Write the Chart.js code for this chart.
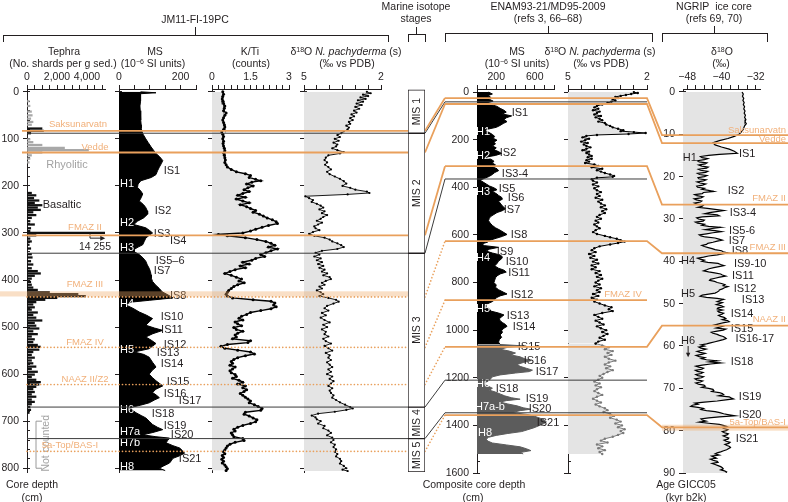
<!DOCTYPE html>
<html>
<head>
<meta charset="utf-8">
<title>JM11-FI-19PC, ENAM93-21/MD95-2009 and NGRIP</title>
<script src="https://cdn.jsdelivr.net/npm/chart.js@4.4.1/dist/chart.umd.min.js"></script>
<style>
  html, body { margin:0; padding:0; background:#fff; }
  #wrap { position:relative; width:788px; height:502px; overflow:hidden; font-family:"Liberation Sans", Arial, Helvetica, sans-serif; color:#231f20; }
  #wrap canvas { position:absolute; left:0; top:0; }
  .t { position:absolute; font-size:10.5px; line-height:12px; white-space:nowrap; transform:translate(-50%,-50%); }
  .t sup { font-size:7px; line-height:0; vertical-align:3.5px; }
  .h { position:absolute; height:0; border-top:1px solid #231f20; }
  .v { position:absolute; width:0; border-left:1px solid #231f20; }
</style>
</head>
<body>
<div id="wrap">
  <canvas id="cTeph" width="788" height="502"></canvas>
  <canvas id="cMS" width="788" height="502"></canvas>
  <canvas id="cKTi" width="788" height="502"></canvas>
  <canvas id="cJD" width="788" height="502"></canvas>
  <canvas id="cEMS" width="788" height="502"></canvas>
  <canvas id="cED" width="788" height="502"></canvas>
  <canvas id="cNG" width="788" height="502"></canvas>
  <canvas id="cTie" width="788" height="502"></canvas>
  <canvas id="cMIS" width="788" height="502"></canvas>

  <div class="t" style="left:195px;top:19px">JM11-FI-19PC</div>
  <div class="t" style="left:416px;top:6px">Marine isotope</div>
  <div class="t" style="left:416px;top:18px">stages</div>
  <div class="t" style="left:548px;top:6px">ENAM93-21/MD95-2009</div>
  <div class="t" style="left:548px;top:18px">(refs 3, 66–68)</div>
  <div class="t" style="left:714px;top:6px">NGRIP&nbsp; ice core</div>
  <div class="t" style="left:714px;top:18px">(refs 69, 70)</div>

  <div class="t" style="left:64px;top:51px">Tephra</div>
  <div class="t" style="left:63px;top:63px">(No. shards per g sed.)</div>
  <div class="t" style="left:155px;top:51px">MS</div>
  <div class="t" style="left:153px;top:63px">(10<sup>−6</sup> SI units)</div>
  <div class="t" style="left:250px;top:51px">K/Ti</div>
  <div class="t" style="left:251px;top:63px">(counts)</div>
  <div class="t" style="left:346px;top:51px">δ<sup>18</sup>O <i>N. pachyderma</i> (s)</div>
  <div class="t" style="left:347px;top:63px">(‰ vs PDB)</div>
  <div class="t" style="left:517px;top:51px">MS</div>
  <div class="t" style="left:517px;top:63px">(10<sup>−6</sup> SI units)</div>
  <div class="t" style="left:600px;top:51px">δ<sup>18</sup>O <i>N. pachyderma</i> (s)</div>
  <div class="t" style="left:601px;top:63px">(‰ vs PDB)</div>
  <div class="t" style="left:722px;top:51px">δ<sup>18</sup>O</div>
  <div class="t" style="left:721px;top:63px">(‰)</div>

  <div class="t" style="left:32px;top:484px">Core depth</div>
  <div class="t" style="left:32px;top:497px">(cm)</div>
  <div class="t" style="left:474px;top:484px">Composite core depth</div>
  <div class="t" style="left:473px;top:497px">(cm)</div>
  <div class="t" style="left:686px;top:484px">Age GICC05</div>
  <div class="t" style="left:686px;top:497px">(kyr b2k)</div>

  <div class="h" style="left:3px;top:35px;width:385px"></div>
  <div class="v" style="left:3px;top:35px;height:7px"></div>
  <div class="v" style="left:388px;top:35px;height:7px"></div>
  <div class="v" style="left:195px;top:27px;height:8px"></div>

  <div class="h" style="left:408px;top:34px;width:17px"></div>
  <div class="v" style="left:408px;top:34px;height:8px"></div>
  <div class="v" style="left:425px;top:34px;height:8px"></div>
  <div class="v" style="left:416px;top:27px;height:7px"></div>

  <div class="h" style="left:445px;top:33px;width:207px"></div>
  <div class="v" style="left:445px;top:33px;height:9px"></div>
  <div class="v" style="left:652px;top:33px;height:9px"></div>
  <div class="v" style="left:548px;top:26px;height:7px"></div>

  <div class="h" style="left:662px;top:33px;width:105px"></div>
  <div class="v" style="left:662px;top:33px;height:9px"></div>
  <div class="v" style="left:767px;top:33px;height:9px"></div>
  <div class="v" style="left:714px;top:26px;height:7px"></div>
</div>

<script>
// ======================= DATA =======================
// JM11-FI-19PC tephra (core depth cm, shards per g sediment)
const jm11RhyDepth = [20,30,42,50,57,64,70,101,107,113,119,124,129,135,142,150];
const jm11RhyCount = [150,200,300,350,250,400,300,200,400,1000,2500,4100,1000,300,200,150];
const jm11BasDepth = [78,83,88,215,220,226,231,236,241,246,251,256,262,268,275,282,290,296,300,305,312,318,325,333,345,352,360,367,375,381,386,391,397,404,410,416,421,426,430,434,438,442,447,452,458,463,469,474,480,486,491,497,503,509,515,520,526,532,538,542,548,553,559,565,571,577,584,589,595,601,606,612,617,622,627,632,638,643,648,654,659,664,670,676,682];
const jm11BasCount = [1000,1100,250,300,600,450,800,500,1000,700,900,400,600,300,200,500,250,200,14255,600,200,300,150,250,300,350,250,400,300,700,900,500,300,250,300,400,700,1500,3400,3900,2000,1200,600,400,500,300,700,400,600,1000,500,600,800,400,700,300,500,400,700,900,800,400,300,500,300,400,600,300,700,500,300,600,900,800,600,400,500,300,600,300,500,300,200,250,150];

// JM11 magnetic susceptibility (10^-6 SI)
const jm11MSDepth = [0,2,4,10,20,30,40,50,60,70,78,85,90,100,108,117,124,131,138,146,152,160,168,176,182,189,196,203,210,217,225,232,240,246,253,260,268,275,282,289,295,300,305,311,318,325,330,335,340,346,353,360,368,375,382,389,396,403,410,418,425,432,438,443,447,453,460,468,475,482,489,496,502,507,514,521,528,535,541,546,553,558,564,570,575,580,585,592,600,607,614,620,625,632,639,645,650,655,661,666,671,677,682,688,693,700,707,713,718,724,729,733,736,741,746,752,757,762,768,774,779,784,789,795,800,805];
const jm11MS = [70,120,70,70,70,68,69,71,70,72,72,75,78,87,95,104,112,120,132,142,138,131,125,120,105,71,62,60,70,77,72,66,80,87,92,93,80,60,48,87,100,109,98,87,82,77,62,49,50,66,78,87,92,98,102,104,105,109,118,131,140,160,175,100,38,22,45,66,90,109,98,87,115,142,110,87,105,120,108,98,49,80,98,104,109,115,120,108,98,108,120,132,142,120,109,122,131,115,98,70,38,45,55,72,87,98,109,125,142,110,77,120,164,158,153,175,197,205,213,195,175,170,164,145,131,150];

// JM11 K/Ti (counts ratio)
const jm11KTiDepth = [0,5,10,15,20,25,30,35,40,45,50,55,60,65,70,75,80,85,90,95,100,105,110,115,120,125,130,135,140,145,150,155,160,165,170,174,178,182,186,189,192,196,200,204,208,212,216,220,224,228,232,236,240,244,248,252,256,260,264,268,272,276,280,284,288,292,296,300,303,306,310,314,318,322,326,330,334,338,342,346,350,354,358,362,366,370,374,378,382,386,390,394,398,402,406,410,414,418,422,426,430,434,438,442,445,449,453,457,461,465,469,473,477,481,485,489,493,497,501,505,509,513,517,521,525,529,533,537,541,545,549,553,557,561,565,569,573,577,581,585,589,593,597,601,605,609,613,617,621,625,629,633,637,641,645,649,653,657,661,665,669,673,677,681,685,689,693,697,701,705,709,713,717,721,725,729,733,737,741,745,749,753,757,761,765,769,773,777,781,785,789,793,797,801,805];
const jm11KTi = [0.42,0.45,0.42,0.4,0.43,0.45,0.5,0.48,0.45,0.55,0.5,0.45,0.42,0.45,0.48,0.5,0.45,0.38,0.42,0.45,0.42,0.45,0.43,0.45,0.48,0.5,0.45,0.48,0.5,0.52,0.5,0.55,0.6,0.75,0.95,1.3,1.5,1.45,1.7,1.9,1.55,1.35,1.6,1.4,1.25,1.45,1.2,1.0,1.3,0.95,1.2,1.45,1.1,1.35,1.5,1.7,1.6,1.85,2.0,2.15,2.35,2.5,2.55,2.2,1.95,1.7,1.5,1.2,0.25,0.6,1.3,1.75,2.1,2.3,2.45,2.2,2.55,2.3,2.1,1.9,2.05,1.7,1.55,1.2,1.45,1.1,1.3,0.9,0.7,0.5,0.75,0.95,1.15,1.05,1.25,1.0,0.85,0.75,0.65,0.6,0.55,0.6,0.8,1.6,2.3,2.45,2.4,2.5,2.3,1.9,1.5,1.35,1.15,1.05,1.2,0.9,1.0,1.15,0.85,0.95,1.2,1.0,0.9,0.95,0.8,1.5,1.4,0.6,0.35,0.5,1.0,1.5,1.65,1.3,1.0,0.85,0.75,0.8,0.7,0.9,0.8,0.7,0.75,0.9,0.95,0.8,1.05,1.2,1.0,1.3,1.2,1.35,1.25,1.1,1.2,1.3,1.4,1.5,1.45,1.65,1.8,1.95,1.9,1.3,1.25,1.45,1.6,1.75,1.7,1.5,1.2,1.0,0.85,0.9,0.75,0.8,0.85,1.2,1.25,0.9,0.7,0.6,0.55,0.5,0.45,0.5,0.4,0.45,0.38,0.45,0.4,0.5,0.55,0.6,0.55];

// JM11 d18O N. pachyderma (s) (permil vs PDB)
const jm11D18ODepth = [0,3,6,9,12,15,18,21,25,28,32,36,40,44,48,52,56,60,64,68,72,76,80,84,88,92,96,100,104,108,112,116,120,124,128,131,135,140,145,150,155,160,165,170,175,180,185,190,195,200,204,208,212,215,218,222,226,230,234,238,242,246,250,254,258,262,266,270,274,278,282,286,290,294,298,302,306,310,314,318,322,326,330,334,338,342,346,350,354,358,362,366,370,374,378,382,386,390,394,398,402,406,410,414,418,422,426,430,434,438,442,446,450,455,460,465,470,475,480,485,490,495,500,505,510,515,520,525,530,535,540,545,550,555,560,565,570,575,580,585,590,595,600,605,610,615,620,625,630,635,640,645,650,655,660,665,670,673,676,680,684,688,692,696,700,705,710,715,720,725,730,735,740,745,750,755,760,765,770,775,780,785,790,795,800,803,806];
const jm11D18O = [2.55,2.4,2.7,2.5,2.8,2.6,2.9,2.7,2.95,2.75,3.0,2.85,3.05,2.95,3.15,3.05,3.2,3.1,3.25,3.2,3.35,3.25,3.3,3.45,3.55,3.7,3.6,3.8,3.65,3.85,3.7,3.75,3.9,3.7,3.45,3.6,4.05,4.15,4.2,4.1,4.18,4.05,3.95,4.1,4.0,3.8,3.6,3.45,3.35,3.5,3.2,3.0,2.55,2.45,3.3,4.95,4.8,4.65,4.7,4.5,4.35,4.25,4.4,4.2,4.3,4.1,4.25,4.35,4.5,4.3,4.45,4.6,4.55,4.4,4.65,4.8,4.6,4.2,4.0,3.9,3.7,3.55,3.45,3.7,4.3,4.55,4.4,4.6,4.35,4.5,4.3,4.45,4.25,4.4,4.2,4.3,4.1,4.25,4.0,3.95,4.15,4.3,4.2,4.4,4.3,4.5,4.35,4.25,4.4,4.05,3.75,3.65,3.85,4.1,4.2,4.05,4.3,4.15,4.35,4.2,4.0,4.25,4.1,4.3,4.15,4.2,4.05,4.25,4.15,3.95,4.2,4.05,3.9,4.15,4.0,4.05,3.95,4.1,4.0,3.9,4.05,3.95,4.1,3.9,4.0,3.85,3.95,4.05,3.9,4.0,3.95,3.85,3.9,3.75,3.6,3.4,3.2,3.1,3.35,3.8,4.45,4.7,4.55,4.5,4.35,4.45,4.2,4.25,4.05,3.95,4.1,3.9,3.85,3.95,3.8,3.85,3.75,3.8,3.7,3.75,3.6,3.55,3.6,3.45,3.35,3.5,3.3];

// Marine isotope stages (in JM11 core depth, cm)
const misNames = ['MIS 1','MIS 2','MIS 3','MIS 4','MIS 5'];
const misTop  = [-4, 88, 343, 670, 737];
const misBase = [88, 343, 670, 737, 808];

// ENAM93-21/MD95-2009 MS (composite depth cm) - upper (black) and lower (grey) parts
const enamMSDepth = [0,8,15,22,30,38,45,52,60,68,76,84,92,100,108,116,124,132,140,148,155,162,170,178,186,194,202,210,218,226,234,242,250,258,266,274,282,290,298,306,314,322,330,338,346,354,362,370,378,386,394,402,410,418,426,434,442,450,458,466,474,482,490,498,506,514,522,530,540,550,560,570,580,590,598,606,614,622,630,638,645,652,660,668,676,684,692,700,710,720,730,740,748,756,764,772,780,790,800,810,820,830,840,848,856,864,872,880,890,900,910,920,928,936,944,952,960,968,976,984,992,1000,1010,1020,1030,1040,1050,1060];
const enamMS = [120,160,112,144,128,168,104,144,208,240,280,304,264,360,304,280,312,272,240,200,120,80,128,160,184,168,208,176,192,160,200,176,224,256,192,80,144,176,160,192,160,208,224,184,160,128,80,32,64,96,128,176,208,160,200,224,256,264,224,240,256,272,296,264,208,176,144,128,120,136,160,192,240,280,312,264,200,136,112,48,80,224,128,96,160,240,264,256,224,208,184,224,280,304,240,208,192,184,176,200,192,224,272,312,240,200,184,160,104,88,128,144,224,280,256,232,240,264,296,312,280,256,264,240,256,232,224,240];
const enamMSLowDepth = [1060,1066,1072,1080,1088,1096,1104,1112,1120,1128,1136,1144,1152,1160,1168,1174,1180,1188,1196,1204,1212,1220,1228,1236,1244,1252,1260,1268,1276,1284,1290,1296,1302,1310,1318,1326,1332,1338,1346,1354,1362,1370,1378,1386,1394,1402,1410,1418,1426,1434,1442,1450,1458,1466,1474,1482,1490,1498,1506,1514,1520];
const enamMSLow = [240,480,320,240,336,400,352,448,496,560,480,416,448,512,576,544,400,240,160,144,120,96,80,120,160,128,192,240,288,360,448,304,240,320,416,480,560,448,360,520,600,656,704,720,688,640,592,528,464,320,200,120,96,112,160,304,448,512,560,448,480];

// ENAM d18O N. pachyderma (s)
const enamD18ODepth = [0,4,8,12,16,20,25,30,35,40,46,52,58,64,70,76,82,88,94,100,106,112,118,124,130,136,142,148,154,160,164,168,172,176,180,184,190,196,202,208,214,220,226,232,238,244,250,256,262,268,274,280,286,292,298,304,310,316,322,328,334,340,346,352,356,360,366,372,380,388,396,404,412,420,428,436,444,452,460,468,476,484,492,500,508,516,524,532,540,548,556,564,572,580,588,596,604,610,616,622,628,634,640,648,656,664,672,680,688,696,704,712,720,728,736,744,752,760,768,776,784,792,800,808,816,824,832,840,848,856,864,872,880,888,896,904,912,920,928,936,944,952,960,968,976,984,992,1000,1008,1016,1024,1032,1040,1048,1056];
const enamD18O = [2.5,2.35,2.6,2.8,3.0,3.2,3.1,3.3,3.2,3.35,3.5,3.7,3.9,4.0,3.85,4.05,3.8,3.9,4.0,3.75,3.95,3.8,3.7,3.85,3.6,3.55,3.4,3.3,3.1,2.9,3.0,2.5,2.05,2.7,3.9,4.3,4.45,4.2,4.35,4.5,4.25,4.4,4.3,4.15,4.3,4.45,4.2,4.3,4.2,4.1,4.25,4.1,4.3,4.2,4.35,4.0,3.85,4.1,3.7,3.9,3.75,3.6,3.4,3.25,3.3,3.9,4.1,4.05,3.9,4.05,3.85,4.0,3.9,3.75,3.9,3.8,3.95,3.7,3.85,3.75,3.6,3.75,3.55,3.7,3.6,3.8,3.9,3.75,3.95,3.85,4.0,3.9,3.8,3.95,4.05,3.9,3.6,3.4,3.15,3.0,2.85,3.1,3.4,3.8,4.0,4.1,3.95,4.2,4.0,4.15,3.9,4.05,3.85,4.1,3.95,4.1,3.8,3.95,3.75,3.9,3.7,3.85,3.95,3.8,4.0,3.75,3.9,3.8,4.05,3.85,4.1,3.9,4.0,3.8,3.6,3.35,3.45,3.3,3.7,4.0,3.85,3.7,3.95,3.8,3.65,3.9,3.75,3.55,3.7,3.5,3.65,3.8,3.6,3.85,3.95];
const enamD18OLowDepth = [1056,1064,1072,1080,1088,1096,1104,1112,1120,1128,1136,1144,1152,1160,1168,1176,1184,1192,1200,1208,1216,1224,1232,1240,1248,1256,1264,1272,1280,1288,1296,1304,1312,1320,1328,1336,1344,1352,1360,1368,1376,1384,1392,1400,1408,1416,1424,1432,1440,1448,1456,1464,1472,1480,1488,1496,1504,1512,1520];
const enamD18OLow = [3.95,3.7,3.45,3.6,3.3,3.5,3.35,3.6,3.45,3.2,3.45,3.6,3.4,3.55,3.3,3.5,3.65,3.8,3.7,3.85,4.0,3.8,3.95,3.75,3.9,4.0,3.85,3.7,3.9,4.05,3.9,3.75,3.95,3.8,3.6,3.5,3.65,3.4,3.25,3.4,3.15,3.0,3.2,2.95,3.1,2.85,3.0,2.9,3.1,3.3,3.6,3.75,3.5,3.9,3.7,3.85,3.6,3.8,3.7];

// NGRIP d18O (permil) on GICC05 (kyr b2k)
const ngripAge = [
  0,0.5,1,1.5,2,2.5,3,3.5,4,4.5,5,5.5,6,6.5,7,7.5,8,8.5,9,9.5,10,10.5,11,11.5,12,12.5,13,13.5,14,14.5,14.75,
  15,15.25,15.5,15.75, 16,16.25,16.5,16.75, 17,17.25,17.5,17.75, 18,18.25,18.5,18.75, 19,19.25,19.5,19.75,
  20,20.25,20.5,20.75, 21,21.25,21.5,21.75, 22,22.25,22.5,22.75, 23,23.25,23.5,23.75, 24,24.25,24.5,24.75,
  25,25.25,25.5,25.75, 26,26.25,26.5,26.75, 27,27.25,27.5,27.75, 28,28.25,28.5,28.75, 29,29.25,29.5,29.75,
  30,30.25,30.5,30.75, 31,31.25,31.5,31.75, 32,32.25,32.5,32.75, 33,33.25,33.5,33.75, 34,34.25,34.5,34.75,
  35,35.25,35.5,35.75, 36,36.25,36.5,36.75, 37,37.25,37.5,37.75, 38,38.25,38.5,38.75, 39,39.25,39.5,39.75,
  40,40.25,40.5,40.75, 41,41.25,41.5,41.75, 42,42.25,42.5,42.75, 43,43.25,43.5,43.75, 44,44.25,44.5,44.75,
  45,45.25,45.5,45.75, 46,46.25,46.5,46.75, 47,47.25,47.5,47.75, 48,48.25,48.5,48.75, 49,49.25,49.5,49.75,
  50,50.25,50.5,50.75, 51,51.25,51.5,51.75, 52,52.25,52.5,52.75, 53,53.25,53.5,53.75, 54,54.25,54.5,54.75,
  55,55.25,55.5,55.75, 56,56.25,56.5,56.75, 57,57.25,57.5,57.75, 58,58.25,58.5,58.75, 59,59.25,59.5,59.75,
  60,60.25,60.5,60.75, 61,61.25,61.5,61.75, 62,62.25,62.5,62.75, 63,63.25,63.5,63.75, 64,64.25,64.5,64.75,
  65,65.25,65.5,65.75, 66,66.25,66.5,66.75, 67,67.25,67.5,67.75, 68,68.25,68.5,68.75, 69,69.25,69.5,69.75,
  70,70.25,70.5,70.75, 71,71.25,71.5,71.75, 72,72.25,72.5,72.75, 73,73.25,73.5,73.75, 74,74.25,74.5,74.75,
  75,75.25,75.5,75.75, 76,76.25,76.5,76.75, 77,77.25,77.5,77.75, 78,78.25,78.5,78.75, 79,79.25,79.5,79.75,
  80,80.25,80.5,80.75, 81,81.25,81.5,81.75, 82,82.25,82.5,82.75, 83,83.25,83.5,83.75, 84,84.25,84.5,84.75,
  85,85.25,85.5,85.75, 86,86.25,86.5,86.75, 87,87.25,87.5,87.75, 88,88.25,88.5,88.75, 89,89.25,89.5,89.75,
  90];
const ngripD18O = [
  -35.2,-34.9,-35.1,-34.8,-35.0,-34.7,-34.9,-34.6,-34.8,-34.5,-34.7,-34.4,-34.6,-34.3,-34.5,-34.2,-34.6,-34.8,-35.0,-35.4,-35.9,-37.0,-38.5,-40.5,-42.0,-41.5,-40.0,-38.2,-37.0,-36.3,-40.5,
  -43.0,-44.9,-44.5,-43.2, -44.0,-45.6,-45.2,-43.4, -43.8,-45.3,-44.6,-43.1, -43.5,-45.4,-44.9,-43.2, -43.7,-45.6,-45.1,-43.4,
  -44.0,-45.5,-45.3,-43.6, -44.2,-45.7,-45.0,-43.7, -44.4,-45.8,-45.6,-44.0, -44.6,-43.0,-41.8,-44.2, -44.5,-46.3,-45.8,-44.3,
  -44.8,-46.4,-45.9,-44.6, -44.9,-46.3,-45.7,-44.2, -44.5,-45.5,-43.3,-41.5, -39.5,-41.2,-42.8,-43.9, -41.0,-40.5,-44.5,-45.8,
  -45.4,-44.0,-44.3,-46.1, -45.6,-44.0,-44.6,-43.0, -40.2,-42.2,-43.8,-41.5, -40.0,-42.0,-43.5,-45.2, -44.8,-43.8,-41.5,-40.6,
  -39.8,-41.0,-42.0,-43.2, -43.5,-44.6,-44.0,-43.1, -42.2,-41.5,-40.0,-39.6, -38.5,-39.8,-41.0,-43.0, -44.2,-45.6,-45.0,-44.0,
  -44.6,-43.2,-40.8,-40.2, -39.4,-40.6,-41.8,-42.9, -43.5,-44.2,-43.0,-41.6, -40.2,-39.8,-39.0,-40.4, -41.5,-42.6,-42.8,-41.6,
  -41.0,-40.0,-39.2,-39.6, -38.5,-39.3,-39.8,-40.5, -40.6,-41.0,-41.5,-43.0, -44.5,-45.0,-43.5,-41.0, -39.5,-40.3,-41.0,-39.8,
  -40.5,-41.2,-40.0,-39.5, -40.8,-41.0,-39.8,-40.9, -40.6,-39.5,-39.9,-40.7, -40.2,-39.4,-39.0,-39.8, -38.6,-38.2,-39.4,-40.6,
  -41.5,-39.4,-40.2,-41.2, -39.0,-39.6,-41.0,-42.4, -42.0,-41.0,-40.5,-39.6, -39.2,-38.9,-39.6,-40.5, -41.5,-42.6,-43.5,-44.8,
  -44.0,-45.3,-44.8,-43.6, -44.5,-45.7,-45.0,-43.8, -44.6,-45.9,-45.2,-43.9, -44.7,-43.5,-41.0,-42.8, -40.2,-42.5,-44.5,-46.0,
  -45.3,-44.2,-44.6,-46.1, -45.6,-44.3,-44.8,-46.0, -45.5,-44.2,-44.7,-46.2, -45.8,-44.4,-44.9,-46.0, -45.4,-44.1,-43.8,-44.6,
  -43.0,-42.0,-41.8,-42.3, -40.5,-39.8,-39.5,-40.6, -38.2,-37.8,-37.2,-39.0, -41.0,-44.0,-46.2,-45.5, -46.8,-47.2,-45.5,-44.2,
  -44.8,-43.5,-41.5,-40.4, -39.5,-38.2,-36.8,-40.5, -43.0,-44.8,-44.5,-43.6, -45.2,-43.0,-40.5,-39.6, -38.8,-39.9,-39.4,-38.5,
  -38.9,-39.8,-39.3,-38.4, -38.7,-39.6,-39.0,-38.3, -38.5,-39.4,-38.9,-38.0, -38.3,-39.2,-38.7,-38.1, -37.9,-38.4,-38.8,-39.5,
  -40.2,-41.0,-41.5,-40.6, -42.3,-41.8,-41.2,-42.6, -42.0,-41.0,-40.8,-42.2, -41.5,-40.8,-40.2,-39.8, -39.6,-40.2,-39.3,-38.8,
  -39.0];

// Tie points (tephra / ash horizons) between the three records
const tieNames   = ['Saksunarvatn','Vedde','FMAZ II','FMAZ III','FMAZ IV','NAAZ II/Z2','5a-Top/BAS-I'];
const tieNgripNames = ['Saksunarvatn','Vedde','FMAZ II','FMAZ III',null,'NAAZ II','5a-Top/BAS-I'];
const tieJM11    = [83, 129, 305, 436, 543, 622, 764];
const tieENAM    = [25, 50, 311, 626, 874, 1070, 1357];
const tieNGRIP   = [10.2, 12.1, 26.6, 38.1, null, 55.2, 79.2];
const tieDotted  = [false, false, false, true, true, true, true];
const tieLabelX  = [3400, 4533, 3867, 3867, 3867, 3867, 2867];   // tephra-count units
// Stratigraphic (black) lines JM11 -> ENAM
const markJM11 = [88, 343, 670, 737];
const markENAM = [41, 365, 1210, 1347];

// Event labels
const jm11EvText  = ['IS1','H1','IS2','H2','IS3','IS4','H3','IS5–6','IS7','IS8','H4','IS10','IS11','IS12','H5','IS13','IS14','IS15','IS16','IS17','H6','IS18','IS19','H7a','IS20','H7b','IS21','H8'];
const jm11EvMS    = [172,26,143,26,140,192,26,166,140,192,26,172,172,182,26,159,172,192,182,231,26,143,182,36,205,36,231,26];
const jm11EvDepth = [169,196,254,279,302,317,332,360,381,434,451,479,507,538,549,556,579,617,643,657,677,685,711,723,730,747,781,798];
const enamEvText  = ['IS1','H1','IS2','H2','IS3-4','IS5','H3','IS6','IS7','IS8','IS9','H4','IS10','IS11','IS12','H5','IS13','IS14','IS15','IS16','IS17','H6','IS18','IS19','H7a-b','IS20','IS21','H8'];
const enamEvMS    = [446,62,322,62,395,312,62,406,364,437,291,62,416,437,468,62,426,489,541,602,727,62,312,623,135,654,738,83];
const enamEvDepth = [88,168,256,269,345,408,420,445,496,601,672,697,714,761,853,912,941,987,1071,1130,1176,1227,1248,1290,1324,1332,1391,1433];
const ngripEvText = ['IS1','H1','IS2','IS3-4','IS5-6','IS7','IS8','H4','IS9-10','IS11','IS12','H5','IS13','IS14','IS15','IS16-17','H6','IS18','IS19','IS20','IS21'];
const ngripEvD18O = [-34.0,-47.4,-36.6,-35.0,-35.2,-36.4,-35.7,-47.8,-33.3,-35.0,-34.5,-47.8,-32.6,-35.2,-35.2,-32.2,-47.8,-35.2,-33.3,-33.3,-34.0];
const ngripEvAge  = [14.6,15.6,23.4,28.6,32.8,35.2,37.6,39.9,40.6,43.5,46.5,47.7,49.1,52.4,56.0,58.3,58.8,63.8,72.1,76.3,82.0];

// Tick values and labels
const tephraTicks = [0,500,1000,1500,2000,2500,3000,3500,4000,4500,5000];
const tephraTickLabels = [0,2000,4000];
const msTicks = [0,50,100,150,200,250];
const msTickLabels = [0,200];
const ktiTicks = [0,0.25,0.5,0.75,1,1.25,1.5,1.75,2,2.25,2.5,2.75,3];
const ktiTickLabels = [0,1.5,3];
const d18OTicks = [2,2.5,3,3.5,4,4.5,5];
const d18OTickLabels = [5,2];
const enamMSTicks = [0,100,200,300,400,500,600,700,800];
const enamMSTickLabels = [200,600];
const ngripTicks = [-48,-46,-44,-42,-40,-38,-36,-34,-32];
const ngripTickLabels = [-48,-40,-32];
const jm11DepthTicks = [0,100,200,300,400,500,600,700,800];
const enamDepthTicks = [0,200,400,600,800,1000,1200,1400,1600];
const ngripAgeTicks = [0,10,20,30,40,50,60,70,80,90];

// ======================= STYLE / LAYOUT =======================
const INK = '#231f20';
const FONT = '"Liberation Sans", Arial, Helvetica, sans-serif';
const ORANGE = '#e9a05c';
const ORANGE_TXT = '#f1b07a';
const FILL = '#e4e4e4';
const W = 788, H = 502;
// chart areas [left, right, top, bottom]
const A_TEPH = [27,105,89,472], A_MS = [119,196,89,472], A_KTI = [212,289,89,472], A_JD = [304,381,89,472];
const A_MIS = [408,425,89,472], A_EMS = [477,554,89,473], A_ED = [568,647,89,473], A_NG = [683,760,89,473];
const JM = [-6, 808], EN = [-13, 1600], NGR = [-0.7, 90];

function steps(a, b, s) { const r = []; for (let v = a; v <= b + 1e-9; v += s) r.push(Math.round(v * 1000) / 1000); return r; }
const has = (arr, v) => arr.some(a => Math.abs(a - v) < 1e-9);

function baseOpts(area, wy, hx) {
  return {
    responsive: false, animation: false, events: [],
    layout: { padding: { left: area[0] - wy, right: W - area[1], top: area[2] - hx, bottom: H - area[3] } },
    plugins: { legend: { display: false }, tooltip: { enabled: false }, title: { display: false } }
  };
}
function xAxis(min, max, ticks, labels, fmt, reverse) {
  return {
    type: 'linear', position: 'top', min, max, reverse: !!reverse, offset: false,
    afterBuildTicks: s => { s.ticks = ticks.map(v => ({ value: v })); },
    ticks: { autoSkip: false, maxRotation: 0, minRotation: 0, padding: 2, color: INK,
      font: { family: FONT, size: 10.5 }, callback: v => has(labels, v) ? fmt(v) : '' },
    grid: { drawOnChartArea: false, drawTicks: true, tickLength: 4, color: INK, lineWidth: 1, offset: false },
    border: { display: true, color: INK, width: 1 },
    afterFit: s => { s.height = 20; s.paddingLeft = 0; s.paddingRight = 0; }
  };
}
function yAxes(range, major, minorStep, showLabels, width) {
  const minor = steps(0, major[major.length - 1], minorStep);
  return {
    y: { type: 'linear', position: 'left', reverse: true, min: range[0], max: range[1], weight: 1, offset: false,
      afterBuildTicks: s => { s.ticks = major.map(v => ({ value: v })); },
      ticks: { display: showLabels, autoSkip: false, padding: 4, color: INK, font: { family: FONT, size: 10.5 }, callback: v => String(v) },
      grid: { drawOnChartArea: false, tickLength: 4, color: INK, offset: false },
      border: { display: true, color: INK, width: 1 },
      afterFit: s => { s.width = width; s.paddingTop = 0; s.paddingBottom = 0; } },
    ym: { type: 'linear', position: 'left', reverse: true, min: range[0], max: range[1], weight: 0, offset: false,
      afterBuildTicks: s => { s.ticks = minor.map(v => ({ value: v })); },
      ticks: { display: false, autoSkip: false },
      grid: { drawOnChartArea: false, tickLength: -3, color: INK, offset: false },
      border: { display: false },
      afterFit: s => { s.width = 0; s.paddingTop = 0; s.paddingBottom = 0; } }
  };
}
function pts(vals, depths) { return depths.map((d, i) => ({ x: vals[i], y: d })); }

// generic text annotation plugin (positions in data units of the chart's x/y scales)
const annot = {
  id: 'annot',
  afterDatasetsDraw(chart, args, opts) {
    const items = opts.items || [];
    const ctx = chart.ctx, X = chart.scales.x, Y = chart.scales.y;
    ctx.save();
    for (let k = 0; k < items.length; k++) {
      const it = items[k];
      const px = it.right ? chart.width - 2 : X.getPixelForValue(it.x);
      const py = Y.getPixelForValue(it.y) + (it.dy || 0);
      ctx.font = (it.size || 11) + 'px ' + FONT;
      ctx.fillStyle = it.color || INK;
      ctx.textAlign = it.right ? 'right' : 'center';
      ctx.textBaseline = 'middle';
      if (it.rot) { ctx.save(); ctx.translate(px, py); ctx.rotate(-Math.PI / 2); ctx.fillText(it.t, 0, 0); ctx.restore(); }
      else ctx.fillText(it.t, px, py);
    }
    ctx.restore();
  }
};
const evItems = (texts, xs, ys) => texts.map((t, i) => ({ t, x: xs[i], y: ys[i], color: t[0] === 'H' ? '#ffffff' : INK }));

// ======================= CHARTS =======================
// Tephra
const tephraMarks = {
  id: 'tephraMarks',
  afterDatasetsDraw(chart) {
    const X = chart.scales.x, Y = chart.scales.y, ctx = chart.ctx;
    ctx.save();
    ctx.strokeStyle = INK; ctx.fillStyle = INK; ctx.lineWidth = 1;
    const x0 = X.getPixelForValue(4200), x1 = X.getPixelForValue(5150);
    const y0 = Y.getPixelForValue(300), y1 = Y.getPixelForValue(311);
    ctx.beginPath(); ctx.moveTo(x0, y0); ctx.lineTo(x0, y1); ctx.lineTo(x1 - 3, y1); ctx.stroke();
    ctx.beginPath(); ctx.moveTo(x1 + 1, y1); ctx.lineTo(x1 - 4, y1 - 2.5); ctx.lineTo(x1 - 4, y1 + 2.5); ctx.closePath(); ctx.fill();
    ctx.strokeStyle = '#9a9a9a';
    const bx = X.getPixelForValue(600), bc = X.getPixelForValue(1000);
    const b0 = Y.getPixelForValue(700), b1 = Y.getPixelForValue(800);
    ctx.beginPath(); ctx.moveTo(bc, b0); ctx.lineTo(bx, b0); ctx.lineTo(bx, b1); ctx.lineTo(bc, b1); ctx.stroke();
    ctx.restore();
  }
};
const tephraItems = [
  { t: 'Rhyolitic', x: 2667, y: 156, color: '#a3a3a3' },
  { t: 'Basaltic', x: 2333, y: 241 },
  { t: '14 255', x: 4533, y: 330, size: 10.5 },
  { t: 'Not counted', x: 1250, y: 747, rot: true, color: '#a3a3a3', size: 10.5 }
].concat(tieNames.map((n, i) => ({ t: n, x: tieLabelX[i], y: tieJM11[i], dy: [-7, -5, -8, -13, -5, -5, -6][i], color: ORANGE_TXT, size: 9.5 })));

const cTeph = new Chart(document.getElementById('cTeph'), {
  type: 'bar',
  data: { datasets: [
    { data: pts(jm11RhyCount, jm11RhyDepth), backgroundColor: '#a8a8a8', barThickness: 1.6, grouped: false },
    { data: pts(jm11BasCount, jm11BasDepth), backgroundColor: '#111111', barThickness: 1.6, grouped: false }
  ] },
  options: Object.assign(baseOpts(A_TEPH, 27, 20), {
    indexAxis: 'y',
    scales: Object.assign({ x: xAxis(0, 5200, tephraTicks, tephraTickLabels, v => v === 0 ? '0' : v.toLocaleString('en-US')) },
      yAxes(JM, jm11DepthTicks, 20, true, 27)),
    plugins: { legend: { display: false }, tooltip: { enabled: false }, annot: { items: tephraItems } }
  }),
  plugins: [annot, tephraMarks]
});

// JM11 MS
const cMS = new Chart(document.getElementById('cMS'), {
  type: 'line',
  data: { datasets: [{ data: pts(jm11MS, jm11MSDepth), borderColor: '#000', backgroundColor: '#000', borderWidth: 1, fill: { value: 0 }, pointRadius: 0, tension: 0 }] },
  options: Object.assign(baseOpts(A_MS, 6, 20), {
    indexAxis: 'y',
    scales: Object.assign({ x: xAxis(0, 250, msTicks, msTickLabels, v => String(v)) }, yAxes(JM, jm11DepthTicks, 20, false, 6)),
    plugins: { legend: { display: false }, tooltip: { enabled: false }, annot: { items: evItems(jm11EvText, jm11EvMS, jm11EvDepth) } }
  }),
  plugins: [annot]
});

// JM11 K/Ti
const cKTi = new Chart(document.getElementById('cKTi'), {
  type: 'line',
  data: { datasets: [{ data: pts(jm11KTi, jm11KTiDepth), borderColor: '#000', backgroundColor: FILL, borderWidth: 1.4, fill: { value: 0 },
    pointRadius: 1.5, pointBackgroundColor: '#000', pointBorderWidth: 0, tension: 0 }] },
  options: Object.assign(baseOpts(A_KTI, 6, 20), {
    indexAxis: 'y',
    scales: Object.assign({ x: xAxis(0, 3, ktiTicks, ktiTickLabels, v => String(v)) }, yAxes(JM, jm11DepthTicks, 20, false, 6))
  })
});

// JM11 d18O
const cJD = new Chart(document.getElementById('cJD'), {
  type: 'line',
  data: { datasets: [{ data: pts(jm11D18O, jm11D18ODepth), borderColor: '#000', backgroundColor: FILL, borderWidth: 0.9, fill: { value: 5 },
    pointRadius: 1.1, pointBackgroundColor: '#000', pointBorderWidth: 0, tension: 0 }] },
  options: Object.assign(baseOpts(A_JD, 6, 20), {
    indexAxis: 'y',
    scales: Object.assign({ x: xAxis(2, 5, d18OTicks, d18OTickLabels, v => String(v), true) }, yAxes(JM, jm11DepthTicks, 20, false, 6))
  })
});

// ENAM MS
const cEMS = new Chart(document.getElementById('cEMS'), {
  type: 'line',
  data: { datasets: [
    { data: pts(enamMS, enamMSDepth), borderColor: '#000', backgroundColor: '#000', borderWidth: 1, fill: { value: 0 }, pointRadius: 0, tension: 0 },
    { data: pts(enamMSLow, enamMSLowDepth), borderColor: '#5c5c5c', backgroundColor: '#5c5c5c', borderWidth: 1, fill: { value: 0 }, pointRadius: 0, tension: 0 }
  ] },
  options: Object.assign(baseOpts(A_EMS, 32, 20), {
    indexAxis: 'y',
    scales: Object.assign({ x: xAxis(0, 800, enamMSTicks, enamMSTickLabels, v => String(v)) }, yAxes(EN, enamDepthTicks, 50, true, 32)),
    plugins: { legend: { display: false }, tooltip: { enabled: false }, annot: { items: evItems(enamEvText, enamEvMS, enamEvDepth) } }
  }),
  plugins: [annot]
});

// ENAM d18O
const cED = new Chart(document.getElementById('cED'), {
  type: 'line',
  data: { datasets: [
    { data: pts(enamD18O, enamD18ODepth), borderColor: '#000', backgroundColor: FILL, borderWidth: 1, fill: { value: 5 },
      pointRadius: 1.2, pointBackgroundColor: '#000', pointBorderWidth: 0, tension: 0 },
    { data: pts(enamD18OLow, enamD18OLowDepth), borderColor: '#7a7a7a', backgroundColor: FILL, borderWidth: 1, fill: { value: 5 },
      pointRadius: 1.2, pointBackgroundColor: '#7a7a7a', pointBorderWidth: 0, tension: 0 }
  ] },
  options: Object.assign(baseOpts(A_ED, 6, 20), {
    indexAxis: 'y',
    scales: Object.assign({ x: xAxis(2, 5, d18OTicks, d18OTickLabels, v => String(v), true) }, yAxes(EN, enamDepthTicks, 50, false, 6)),
    plugins: { legend: { display: false }, tooltip: { enabled: false },
      annot: { items: [{ t: 'FMAZ IV', x: 2.91, y: tieENAM[4], dy: -6, color: ORANGE_TXT, size: 9.5 }] } }
  }),
  plugins: [annot]
});

// NGRIP
const ngripArrow = {
  id: 'ngripArrow',
  afterDatasetsDraw(chart) {
    const X = chart.scales.x, Y = chart.scales.y, ctx = chart.ctx;
    const x = X.getPixelForValue(-47.8), y0 = Y.getPixelForValue(60.0), y1 = Y.getPixelForValue(62.4);
    ctx.save(); ctx.strokeStyle = INK; ctx.fillStyle = INK; ctx.lineWidth = 1;
    ctx.beginPath(); ctx.moveTo(x, y0); ctx.lineTo(x, y1 - 3); ctx.stroke();
    ctx.beginPath(); ctx.moveTo(x, y1 + 1); ctx.lineTo(x - 2.2, y1 - 3.5); ctx.lineTo(x + 2.2, y1 - 3.5); ctx.closePath(); ctx.fill();
    ctx.restore();
  }
};
const ngripItems = ngripEvText.map((t, i) => ({ t, x: ngripEvD18O[i], y: ngripEvAge[i] }))
  .concat(tieNgripNames.map((n, i) => n ? { t: n, right: true, y: tieNGRIP[i], dy: [-5, -4, -6, -6, 0, -6, -5][i], color: ORANGE_TXT, size: 9.5 } : null).filter(Boolean));
const cNG = new Chart(document.getElementById('cNG'), {
  type: 'line',
  data: { datasets: [{ data: pts(ngripD18O, ngripAge), borderColor: '#000', backgroundColor: FILL, borderWidth: 1.2, fill: { value: -49 }, pointRadius: 0, tension: 0 }] },
  options: Object.assign(baseOpts(A_NG, 22, 20), {
    indexAxis: 'y',
    scales: Object.assign({ x: xAxis(-49, -31, ngripTicks, ngripTickLabels, v => String(v).replace('-', '\u2212')) }, yAxes(NGR, ngripAgeTicks, 2, true, 22)),
    plugins: { legend: { display: false }, tooltip: { enabled: false }, annot: { items: ngripItems } }
  }),
  plugins: [annot, ngripArrow]
});

// Tie lines overlay
const tiePlugin = {
  id: 'ties',
  afterDraw(chart) {
    const ctx = chart.ctx;
    const J = cMS.scales.y, E = cEMS.scales.y, N = cNG.scales.y;
    const xJ0 = cTeph.chartArea.left;
    const xMl = A_MIS[0], xMr = A_MIS[1];
    const xE0 = cEMS.chartArea.left - 32, xE1 = cED.chartArea.right;
    const xN0 = cNG.chartArea.left - 21, xN1 = chart.width;
    const line = (p) => { ctx.beginPath(); ctx.moveTo(p[0][0], p[0][1]); for (let i = 1; i < p.length; i++) ctx.lineTo(p[i][0], p[i][1]); ctx.stroke(); };
    ctx.save();
    // bands
    ctx.fillStyle = 'rgba(240,172,105,0.38)';
    const b0 = J.getPixelForValue(424), b1 = J.getPixelForValue(435);
    ctx.fillRect(xJ0 - 27, b0, xMl - xJ0 + 27, b1 - b0);
    const n0 = N.getPixelForValue(78.6), n1 = N.getPixelForValue(80.0);
    ctx.fillRect(xN0, n0, xN1 - xN0, n1 - n0);
    // black stratigraphic lines
    ctx.strokeStyle = '#3c3c3c'; ctx.lineWidth = 1;
    markJM11.forEach((d, i) => {
      const y1 = J.getPixelForValue(d), y2 = E.getPixelForValue(markENAM[i]);
      line([[xJ0, y1], [xMl, y1]]);
      line([[xMr, y1], [xE0, y2], [xE1, y2]]);
    });
    // orange tephra tie lines
    ctx.strokeStyle = ORANGE;
    tieNames.forEach((n, i) => {
      const yJ = J.getPixelForValue(tieJM11[i]);
      const yE = E.getPixelForValue(tieENAM[i]);
      if (tieDotted[i]) { ctx.setLineDash([0.01, 3.4]); ctx.lineCap = 'round'; ctx.lineWidth = 1.7; }
      else { ctx.setLineDash([]); ctx.lineCap = 'butt'; ctx.lineWidth = 1.8; }
      line([[tieDotted[i] ? xJ0 : xJ0 - 5, yJ], [xMl, yJ]]);
      line([[xMr, yJ], [xE0, yE]]);
      ctx.setLineDash([]); ctx.lineCap = 'butt'; ctx.lineWidth = 1.8;
      const p = [[xE0, yE], [xE1, yE]];
      if (tieNGRIP[i] !== null) { const yN = N.getPixelForValue(tieNGRIP[i]); p.push([xN0, yN], [xN1, yN]); }
      line(p);
    });
    ctx.restore();
  }
};
const cTie = new Chart(document.getElementById('cTie'), {
  type: 'scatter',
  data: { datasets: [] },
  options: Object.assign(baseOpts([0, W, 0, H], 0, 0), { scales: { x: { display: false }, y: { display: false } } }),
  plugins: [tiePlugin]
});

// Marine isotope stages
const misText = {
  id: 'misText',
  afterDatasetsDraw(chart) {
    const ctx = chart.ctx;
    ctx.save();
    ctx.font = '10.5px ' + FONT; ctx.fillStyle = INK; ctx.textAlign = 'center'; ctx.textBaseline = 'middle';
    misNames.forEach((n, i) => {
      const el = chart.getDatasetMeta(i).data[0];
      const cy = (el.y + el.base) / 2;
      ctx.save(); ctx.translate(el.x + 0.5, cy); ctx.rotate(-Math.PI / 2); ctx.fillText(n, 0, 0); ctx.restore();
    });
    ctx.restore();
  }
};
const cMIS = new Chart(document.getElementById('cMIS'), {
  type: 'bar',
  data: { labels: ['MIS'], datasets: misNames.map((n, i) => ({
    label: n, data: [[misTop[i], misBase[i]]], backgroundColor: '#ffffff', borderColor: INK, borderWidth: 1,
    borderSkipped: false, grouped: false, categoryPercentage: 1, barPercentage: 1 })) },
  options: Object.assign(baseOpts(A_MIS, 0, 0), {
    scales: { x: { display: false }, y: { display: false, min: JM[0], max: JM[1], reverse: true } }
  }),
  plugins: [misText]
});
</script>
</body>
</html>
